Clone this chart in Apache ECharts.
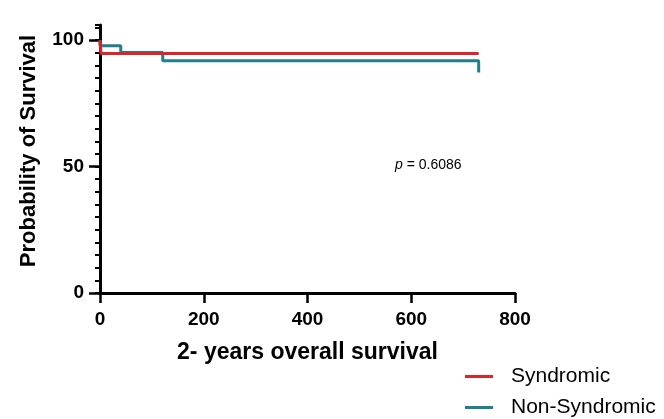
<!DOCTYPE html>
<html>
<head>
<meta charset="utf-8">
<script src="https://cdn.jsdelivr.net/npm/echarts@6/dist/echarts.min.js"></script>
<style>
  html, body { margin: 0; padding: 0; background: #fff; }
  #chart { width: 664px; height: 419px; }
</style>
</head>
<body>
<div id="chart"></div>
<script>
// Kaplan-Meier steps: [days, survival %]
var syndromic = [[0, 100], [2, 94.7], [730, 94.7]];
var nonSyndromic = [[0, 100], [0, 97.8], [40, 95.1], [121, 91.9], [730, 91.9], [730, 87.2]];
var seriesNames = ['Syndromic', 'Non-Syndromic'];
var majorYTicks = [0, 50, 100];
var pValue = '0.6086';

var chart = echarts.init(document.getElementById('chart'));
var font = 'Arial, "Liberation Sans", sans-serif';

function legendFor(name, top) {
    return {
        data: [name],
        left: 460,
        top: top,
        icon: 'rect',
        itemWidth: 28,
        itemHeight: 3,
        textStyle: { fontFamily: font, fontSize: 21, color: '#000', padding: [0, 0, 0, 13] }
    };
}

var option = {
    animation: false,
    grid: { left: 100, right: 149, top: 25, bottom: 126 },
    legend: [legendFor(seriesNames[0], 361), legendFor(seriesNames[1], 392)],
    xAxis: {
        type: 'value',
        min: 0,
        max: 800,
        interval: 200,
        name: '2- years overall survival',
        nameLocation: 'middle',
        nameGap: 48,
        nameTextStyle: { fontFamily: font, fontSize: 23, fontWeight: 'bold', color: '#000' },
        axisLine: { onZero: false, lineStyle: { color: '#000', width: 3 } },
        axisTick: { length: 10, lineStyle: { color: '#000', width: 2.5 } },
        axisLabel: { margin: 17, fontFamily: font, fontSize: 19, fontWeight: 'bold', color: '#000' },
        splitLine: { show: false }
    },
    yAxis: [{
        type: 'value',
        min: 0,
        max: 106,
        interval: 5,
        name: 'Probability of Survival',
        nameLocation: 'middle',
        nameGap: 60,
        nameTextStyle: { fontFamily: font, fontSize: 22, fontWeight: 'bold', color: '#000', padding: [0, 0, 0, 16] },
        axisLine: { show: true, lineStyle: { color: '#000', width: 3 } },
        axisTick: { show: true, length: 5, lineStyle: { color: '#000', width: 2 } },
        axisLabel: {
            margin: 16, fontFamily: font, fontSize: 19, fontWeight: 'bold', color: '#000',
            customValues: majorYTicks
        },
        splitLine: { show: false }
    }, {
        // overlay axis for the longer major ticks
        type: 'value',
        position: 'left',
        min: 0,
        max: 106,
        interval: 50,
        axisLine: { show: false },
        axisTick: { show: true, length: 11, customValues: majorYTicks, lineStyle: { color: '#000', width: 2.5 } },
        axisLabel: { show: false },
        splitLine: { show: false }
    }],
    graphic: [{
        type: 'text',
        left: 395,
        top: 158,
        style: {
            text: '{i|p} = ' + pValue,
            rich: { i: { fontStyle: 'italic', fontFamily: font, fontSize: 14, fill: '#000' } },
            font: '14px ' + font,
            fill: '#000'
        }
    }],
    series: [{
        name: 'Non-Syndromic',
        type: 'line',
        step: 'end',
        data: nonSyndromic,
        showSymbol: false,
        lineStyle: { width: 3, color: '#1f7f8f' },
        itemStyle: { color: '#1f7f8f' }
    }, {
        name: 'Syndromic',
        type: 'line',
        step: 'end',
        data: syndromic,
        showSymbol: false,
        lineStyle: { width: 3, color: '#d7262c' },
        itemStyle: { color: '#d7262c' }
    }]
};

chart.setOption(option);
</script>
</body>
</html>
